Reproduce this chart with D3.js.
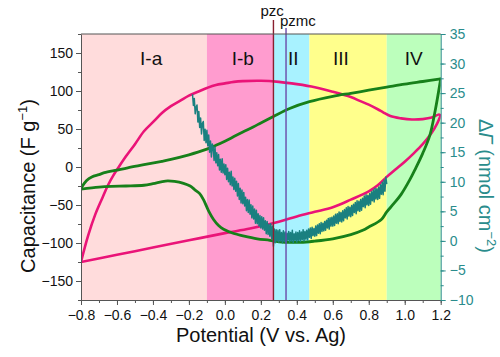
<!DOCTYPE html>
<html><head><meta charset="utf-8">
<script src="https://cdn.jsdelivr.net/npm/d3@7"></script>
<style>
body{margin:0;background:#fff;}
svg{display:block;font-family:"Liberation Sans",Arial,sans-serif;}
</style></head>
<body><svg id="c" width="500" height="357"></svg>
<script>
// ---------- data ----------
const regionNames = ["I-a","I-b","II","III","IV"];
const regionBounds = [-0.8,-0.1,0.27,0.47,0.9,1.2];
const regionLabelX = [-0.41,0.10,0.38,0.645,1.05];
const pzc = 0.27, pzmc = 0.34;

const xTicks = [-0.8,-0.6,-0.4,-0.2,0.0,0.2,0.4,0.6,0.8,1.0,1.2];
const yLeftTicks = [-150,-100,-50,0,50,100,150];
const yRightTicks = [-10,-5,0,5,10,15,20,25,30,35];

// pink CV: upper branch (left->right), lower branch (right->left)
const pinkUpper = [[-0.8,-125],[-0.76,-90],[-0.72,-62],[-0.68,-40],[-0.65,-24],[-0.62,-11],[-0.59,0],[-0.55,14],[-0.5,30],[-0.45,47],[-0.4,59],[-0.35,71],[-0.3,80],[-0.25,87],[-0.2,94],[-0.15,99],[-0.1,104],[-0.05,108],[0,110],[0.05,112],[0.1,113],[0.2,113.5],[0.3,112],[0.4,109],[0.5,105],[0.6,99],[0.7,92],[0.75,87],[0.8,82],[0.85,76],[0.88,72],[0.92,67],[0.98,64],[1.04,62.5],[1.1,63],[1.15,65],[1.19,69],[1.2,68]];
const pinkLower = [[1.2,68],[1.18,57],[1.15,45],[1.1,30],[1.05,18],[1.0,7],[0.95,-3],[0.9,-13],[0.85,-24],[0.8,-32],[0.7,-43],[0.6,-53],[0.5,-59],[0.4,-65],[0.3,-72],[0.14,-81],[0,-87],[-0.2,-96.5],[-0.4,-106],[-0.6,-115.5],[-0.8,-125]];

// green CV
const greenUpper = [[-0.8,-28],[-0.77,-18],[-0.74,-13],[-0.7,-10],[-0.67,-7.5],[-0.6,-4],[-0.54,-1],[-0.45,3],[-0.35,7.5],[-0.3,10],[-0.2,16],[-0.15,19.5],[-0.1,23.5],[-0.05,28.5],[0,34],[0.05,40],[0.1,46],[0.16,53],[0.2,58],[0.27,66.5],[0.36,77],[0.47,86],[0.6,93],[0.7,97],[0.8,101],[0.9,105],[1.0,109],[1.1,112.5],[1.2,116]];
const greenLower = [[1.2,116],[1.17,75],[1.14,42],[1.1,18],[1.06,-2],[1.03,-16],[0.98,-36],[0.94,-48],[0.9,-59],[0.87,-69],[0.8,-79],[0.77,-83],[0.7,-89],[0.6,-94.5],[0.5,-97.5],[0.42,-99],[0.3,-98.5],[0.25,-96.5],[0.18,-94.5],[0.1,-90.5],[0.05,-87.5],[-0.007,-82],[-0.035,-77],[-0.063,-69],[-0.09,-58],[-0.119,-43],[-0.14,-35],[-0.167,-30],[-0.193,-25],[-0.23,-21.5],[-0.28,-19],[-0.33,-18.5],[-0.4,-22],[-0.45,-24],[-0.55,-25],[-0.63,-25.5],[-0.7,-26.5],[-0.8,-29]];

const gammaStart = -0.18, gammaStep = 0.005;
const gammaY = [
24.8,22.9,24.1,21.5,22.6,23.0,20.1,
21.9,19.2,20.8,18.1,19.9,20.2,17.0,18.9,16.6,18.7,
16.1,17.9,15.0,16.9,14.2,16.4,15.8,13.6,15.9,13.2,
14.9,12.7,14.6,12.0,13.8,11.6,13.9,11.5,13.0,11.2,
12.9,10.4,12.3,10.0,11.6,9.5,11.8,9.3,10.8,8.7,
10.6,8.4,10.1,7.6,9.7,7.0,8.9,6.4,8.6,6.3,
8.2,5.9,7.4,5.1,7.0,4.8,6.9,4.5,6.1,3.9,
5.9,3.7,5.4,3.0,5.2,2.9,4.6,2.5,4.3,2.2,
4.1,2.0,3.9,1.8,3.4,1.2,3.3,1.1,2.8,0.8,
2.9,0.4,2.5,-0.9,2.0,-0.3,1.9,0.0,1.8,-0.2,
1.9,0.0,1.4,-0.3,1.7,-0.1,1.5,-0.4,1.3,0.1,
1.6,-0.2,1.4,0.0,1.8,-0.3,1.2,0.1,1.5,-0.2,
1.4,0.1,1.7,-0.1,1.5,0.2,1.9,0.0,1.6,0.3,
1.8,0.2,2.0,0.6,2.2,0.4,2.3,0.9,2.1,0.8,
2.5,0.9,2.7,1.3,2.9,1.2,3.1,1.6,3.0,1.7,
3.3,1.8,3.5,2.2,3.8,2.0,3.9,2.5,4.0,2.5,
4.2,2.6,4.5,3.0,4.6,2.9,4.9,3.3,4.8,3.2,
5.1,3.4,5.3,3.9,5.6,3.7,5.8,4.2,5.7,4.1,
6.0,4.3,6.2,4.8,6.5,4.6,6.8,5.1,6.7,5.0,
7.0,5.2,7.2,5.8,7.6,5.6,7.8,6.1,7.7,6.0,
8.0,6.2,8.3,6.8,8.6,6.6,8.9,7.1,8.8,7.0,
9.1,7.2,9.5,7.9,9.9,7.8,10.3,8.4,10.8,9.6];

// ---------- styles ----------
const regionColors = ["#ffdcdc","#ff9ccf","#a8f2ff","#ffff8c","#bcffbc"];
const frame = "#555";
const teal = "#2a8c8c";

// ---------- scales ----------
const L = 81, R = 440.7, T = 34, B = 300;
const x = d3.scaleLinear().domain([-0.8,1.2]).range([L,R]);
const yL = d3.scaleLinear().domain([-175,175]).range([B,T]);
const yR = d3.scaleLinear().domain([-10,35]).range([B,T]);

const svg = d3.select("#c");

// regions
svg.append("g").selectAll("rect").data(regionNames).join("rect")
  .attr("x",(d,i)=>x(regionBounds[i]))
  .attr("width",(d,i)=>x(regionBounds[i+1])-x(regionBounds[i]))
  .attr("y",T).attr("height",B-T)
  .attr("fill",(d,i)=>regionColors[i]);

svg.append("g").selectAll("text").data(regionNames).join("text")
  .attr("x",(d,i)=>x(regionLabelX[i])).attr("y",65)
  .attr("text-anchor","middle").attr("font-size",19).attr("fill","#111")
  .text(d=>d);

// clip
svg.append("clipPath").attr("id","clip").append("rect")
  .attr("x",L).attr("y",T).attr("width",R-L).attr("height",B-T);
const plot = svg.append("g").attr("clip-path","url(#clip)");

const lineL = d3.line().x(d=>x(d[0])).y(d=>yL(d[1])).curve(d3.curveCatmullRom.alpha(0.5));
function branch(data,color,w){
  plot.append("path").datum(data).attr("d",lineL).attr("fill","none")
    .attr("stroke",color).attr("stroke-width",w).attr("stroke-linejoin","round").attr("stroke-linecap","round");
}
branch(pinkUpper,"#ea1478",2.6);
branch(pinkLower,"#ea1478",2.6);
branch(greenUpper,"#17801a",2.8);
branch(greenLower,"#17801a",2.8);

const gData = gammaY.map((v,i)=>[gammaStart+i*gammaStep,v]);
plot.append("path").datum(gData)
  .attr("d",d3.line().x(d=>x(d[0])).y(d=>yR(d[1])))
  .attr("fill","none").attr("stroke","#1a8080").attr("stroke-width",1.5).attr("stroke-linejoin","round");

// pzc / pzmc lines
svg.append("line").attr("x1",x(pzc)).attr("x2",x(pzc)).attr("y1",20).attr("y2",B)
  .attr("stroke","#8a2030").attr("stroke-width",1.4);
svg.append("line").attr("x1",x(pzmc)).attr("x2",x(pzmc)).attr("y1",28).attr("y2",B)
  .attr("stroke","#6a4aa8").attr("stroke-width",1.4);
svg.append("text").attr("x",x(pzc)-13).attr("y",16).attr("font-size",15).attr("fill","#111").text("pzc");
svg.append("text").attr("x",x(pzmc)-6).attr("y",26).attr("font-size",15).attr("fill","#111").text("pzmc");

// axes
function style(g,color){
  g.selectAll("path,line").attr("stroke",color);
  g.selectAll("text").attr("fill",color).attr("font-size",14).attr("font-family","'Liberation Sans',Arial,sans-serif");
}
const minorX = d3.range(-0.8,1.2001,0.1);
svg.append("g").attr("transform",`translate(0,${B})`)
  .call(d3.axisBottom(x).tickValues(minorX).tickSize(3).tickFormat(""))
  .call(g=>{g.select(".domain").remove();style(g,frame);});
svg.append("g").attr("transform",`translate(0,${B})`)
  .call(d3.axisBottom(x).tickValues(xTicks).tickSize(5).tickSizeOuter(0).tickPadding(5).tickFormat(d3.format(".1f")))
  .call(g=>{style(g,frame);g.selectAll("text").attr("fill","#111");});

svg.append("g").attr("transform",`translate(${L},0)`)
  .call(d3.axisLeft(yL).tickValues(d3.range(-175,176,25)).tickSize(3).tickFormat(""))
  .call(g=>{g.select(".domain").remove();style(g,frame);});
svg.append("g").attr("transform",`translate(${L},0)`)
  .call(d3.axisLeft(yL).tickValues(yLeftTicks).tickSize(5).tickSizeOuter(0).tickPadding(3))
  .call(g=>{style(g,frame);g.selectAll("text").attr("fill","#111");});

svg.append("g").attr("transform",`translate(${R},0)`)
  .call(d3.axisRight(yR).tickValues(d3.range(-10,35.1,2.5)).tickSize(3).tickFormat(""))
  .call(g=>{g.select(".domain").remove();style(g,teal);});
svg.append("g").attr("transform",`translate(${R},0)`)
  .call(d3.axisRight(yR).tickValues(yRightTicks).tickSize(5).tickSizeOuter(0).tickPadding(4))
  .call(g=>{style(g,teal);});

// top frame
svg.append("line").attr("x1",L).attr("x2",R).attr("y1",T).attr("y2",T).attr("stroke",frame).attr("stroke-width",1.2);

// titles
svg.append("text").attr("x",261).attr("y",342).attr("text-anchor","middle").attr("font-size",20).attr("fill","#111")
  .text("Potential (V vs. Ag)");

const yt = svg.append("text").attr("transform","translate(35,186) rotate(-90)")
  .attr("text-anchor","middle").attr("font-size",20).attr("fill","#111");
yt.append("tspan").text("Capacitance (F g");
yt.append("tspan").attr("dy",-8).attr("font-size",13).text("−1");
yt.append("tspan").attr("dy",8).text(")");

const rt = svg.append("text").attr("transform","translate(479,186) rotate(90)")
  .attr("text-anchor","middle").attr("font-size",20).attr("fill",teal);
rt.append("tspan").text("Δ");
rt.append("tspan").attr("font-style","italic").text("Γ");
rt.append("tspan").text(" (nmol cm");
rt.append("tspan").attr("dy",-8).attr("font-size",13).text("−2");
rt.append("tspan").attr("dy",8).text(")");
</script></body></html>
